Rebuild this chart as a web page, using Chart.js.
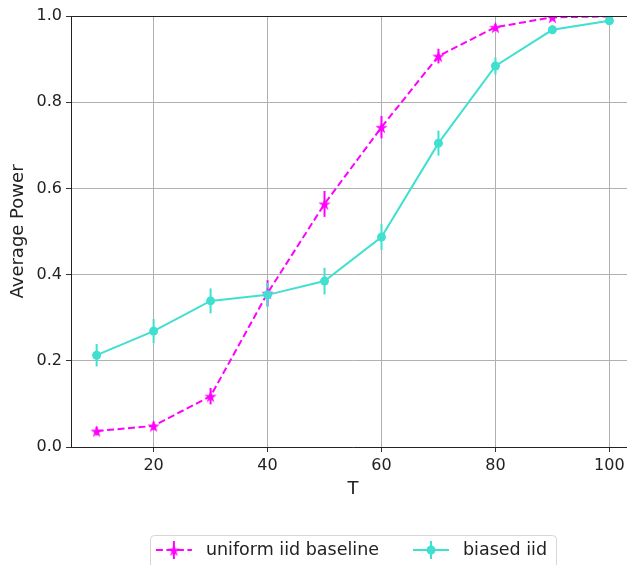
<!DOCTYPE html>
<html><head><meta charset="utf-8">
<script src="https://cdn.jsdelivr.net/npm/chart.js@4"></script>
<style>html,body{margin:0;padding:0;overflow:hidden;background:#fff}canvas{display:block}</style>
</head><body>
<canvas id="c" width="635" height="565"></canvas>
<script>
// ---- data ----
const T = [10, 20, 30, 40, 50, 60, 70, 80, 90, 100];
const uniformPower = [0.037, 0.049, 0.118, 0.357, 0.564, 0.742, 0.907, 0.974, 0.997, 0.999];
const uniformErr   = [0.010, 0.010, 0.019, 0.030, 0.030, 0.026, 0.017, 0.008, 0.004, 0.002];
const biasedPower  = [0.213, 0.269, 0.339, 0.353, 0.385, 0.487, 0.705, 0.884, 0.968, 0.989];
const biasedErr    = [0.026, 0.028, 0.029, 0.028, 0.031, 0.030, 0.029, 0.020, 0.010, 0.007];
const xTicks = [20, 40, 60, 80, 100];
const yTicks = [0.0, 0.2, 0.4, 0.6, 0.8, 1.0];
const seriesNames = ['uniform iid baseline', 'biased iid'];
const xLabel = 'T';
const yLabel = 'Average Power';

const MAGENTA = '#ff00ff';
const TURQ = '#40e0d0';
const FONT = '"DejaVu Sans", sans-serif';

function makeStar(color, R) {
  const s = Math.ceil(R * 2 + 2);
  const c = document.createElement('canvas');
  c.width = s; c.height = s;
  const g = c.getContext('2d');
  const r = R * 0.381966;
  g.fillStyle = color;
  g.beginPath();
  for (let k = 0; k < 10; k++) {
    const rad = k % 2 === 0 ? R : r;
    const ang = -Math.PI / 2 + k * Math.PI / 5;
    const px = s / 2 + rad * Math.cos(ang), py = s / 2 + rad * Math.sin(ang) + R * 0.1;
    if (k === 0) g.moveTo(px, py); else g.lineTo(px, py);
  }
  g.closePath(); g.fill();
  return c;
}
const starImg = makeStar(MAGENTA, 6.5);

const errorBars = {
  id: 'errorBars',
  beforeDatasetsDraw(chart) {
    const {ctx, chartArea: a, scales: {x, y}} = chart;
    ctx.save();
    ctx.beginPath(); ctx.rect(a.left, a.top, a.right - a.left, a.bottom - a.top); ctx.clip();
    const metas = chart.getSortedVisibleDatasetMetas().slice().reverse();
    metas.forEach(m => {
      const ds = chart.data.datasets[m.index];
      ctx.strokeStyle = ds.borderColor; ctx.lineWidth = 2; ctx.setLineDash([]);
      ds.data.forEach((p, i) => {
        const px = x.getPixelForValue(p.x);
        ctx.beginPath();
        ctx.moveTo(px, y.getPixelForValue(p.y - ds.errors[i]));
        ctx.lineTo(px, y.getPixelForValue(p.y + ds.errors[i]));
        ctx.stroke();
      });
    });
    ctx.restore();
  }
};

const topSpine = {
  id: 'topSpine',
  afterDatasetsDraw(chart) {
    const {ctx, chartArea: a} = chart;
    ctx.save();
    ctx.strokeStyle = '#222'; ctx.lineWidth = 1;
    ctx.beginPath(); ctx.moveTo(a.left, a.top + 0.5); ctx.lineTo(a.right, a.top + 0.5); ctx.stroke();
    ctx.restore();
  }
};

const legendBox = {
  id: 'legendBox',
  afterDraw(chart) {
    const {ctx, chartArea: a} = chart;
    const dss = chart.data.datasets;
    ctx.save();
    ctx.font = '17.5px ' + FONT;
    const handle = 36, gapText = 14, gapItem = 34, padL = 6, padR = 9;
    const widths = seriesNames.map(n => ctx.measureText(n).width);
    let total = padL + padR;
    widths.forEach((w, i) => { total += handle + gapText + w + (i > 0 ? gapItem : 0); });
    const cx = (a.left + a.right) / 2;
    const bx = cx - total / 2, by = 535, bh = 40, cy = 550;
    ctx.fillStyle = 'rgba(255,255,255,0.8)';
    ctx.strokeStyle = '#d6d6d6'; ctx.lineWidth = 1;
    ctx.beginPath();
    ctx.roundRect(Math.round(bx) + 0.5, by + 0.5, Math.round(total), bh, 4);
    ctx.fill(); ctx.stroke();
    let hx = bx + padL;
    seriesNames.forEach((n, i) => {
      const ds = dss[i];
      const mx = hx + handle / 2;
      ctx.strokeStyle = ds.borderColor; ctx.lineWidth = 2;
      ctx.setLineDash(ds.borderDash || []);
      ctx.beginPath(); ctx.moveTo(hx, cy); ctx.lineTo(hx + handle, cy); ctx.stroke();
      ctx.setLineDash([]);
      ctx.beginPath(); ctx.moveTo(mx, cy - 9); ctx.lineTo(mx, cy + 9); ctx.stroke();
      if (ds.pointStyle === 'circle') {
        ctx.fillStyle = ds.borderColor;
        ctx.beginPath(); ctx.arc(mx, cy, 4.5, 0, Math.PI * 2); ctx.fill();
      } else {
        ctx.drawImage(starImg, mx - starImg.width / 2, cy - starImg.height / 2);
      }
      ctx.fillStyle = '#222';
      ctx.textBaseline = 'middle'; ctx.textAlign = 'left';
      ctx.fillText(n, hx + handle + gapText, cy);
      hx += handle + gapText + widths[i] + gapItem;
    });
    ctx.restore();
  }
};

const toPts = (ys) => T.map((t, i) => ({x: t, y: ys[i]}));

new Chart(document.getElementById('c'), {
  type: 'line',
  data: {
    datasets: [
      {
        label: seriesNames[0], data: toPts(uniformPower), errors: uniformErr,
        borderColor: MAGENTA, backgroundColor: MAGENTA, borderWidth: 2, borderDash: [7, 3.5],
        pointStyle: starImg, pointRadius: 6, tension: 0, clip: 0, order: 1
      },
      {
        label: seriesNames[1], data: toPts(biasedPower), errors: biasedErr,
        borderColor: TURQ, backgroundColor: TURQ, borderWidth: 2,
        pointStyle: 'circle', pointRadius: 4.5, pointBorderWidth: 0, tension: 0, clip: 0, order: 0
      }
    ]
  },
  options: {
    responsive: false, animation: false, devicePixelRatio: 1,
    layout: {autoPadding: false, padding: {left: 0, top: 16, right: 0, bottom: 62}},
    plugins: {legend: {display: false}, tooltip: {enabled: false}},
    scales: {
      x: {
        type: 'linear', min: 5.5, max: 104.5,
        afterBuildTicks: s => { s.ticks = xTicks.map(v => ({value: v})); },
        afterFit: s => { s.height = 56; },
        grid: {color: '#b0b0b0', lineWidth: 1, tickColor: '#333', tickLength: 5},
        border: {color: '#222', width: 1},
        ticks: {font: {family: FONT, size: 16}, color: '#222', padding: 4, maxRotation: 0,
                callback: v => String(v)},
        title: {display: true, text: xLabel, font: {family: FONT, size: 18}, color: '#222',
                padding: {top: 0, bottom: 3}}
      },
      y: {
        type: 'linear', min: 0, max: 1,
        afterBuildTicks: s => { s.ticks = yTicks.map(v => ({value: v})); },
        afterFit: s => { s.width = 71; },
        grid: {color: '#b0b0b0', lineWidth: 1, tickColor: '#333', tickLength: 5},
        border: {color: '#222', width: 1},
        ticks: {font: {family: FONT, size: 16}, color: '#222', padding: 4,
                callback: v => Number(v).toFixed(1)},
        title: {display: true, text: yLabel, font: {family: FONT, size: 18}, color: '#222',
                padding: {top: 8, bottom: 0}}
      }
    }
  },
  plugins: [errorBars, topSpine, legendBox]
});
</script>
</body></html>
